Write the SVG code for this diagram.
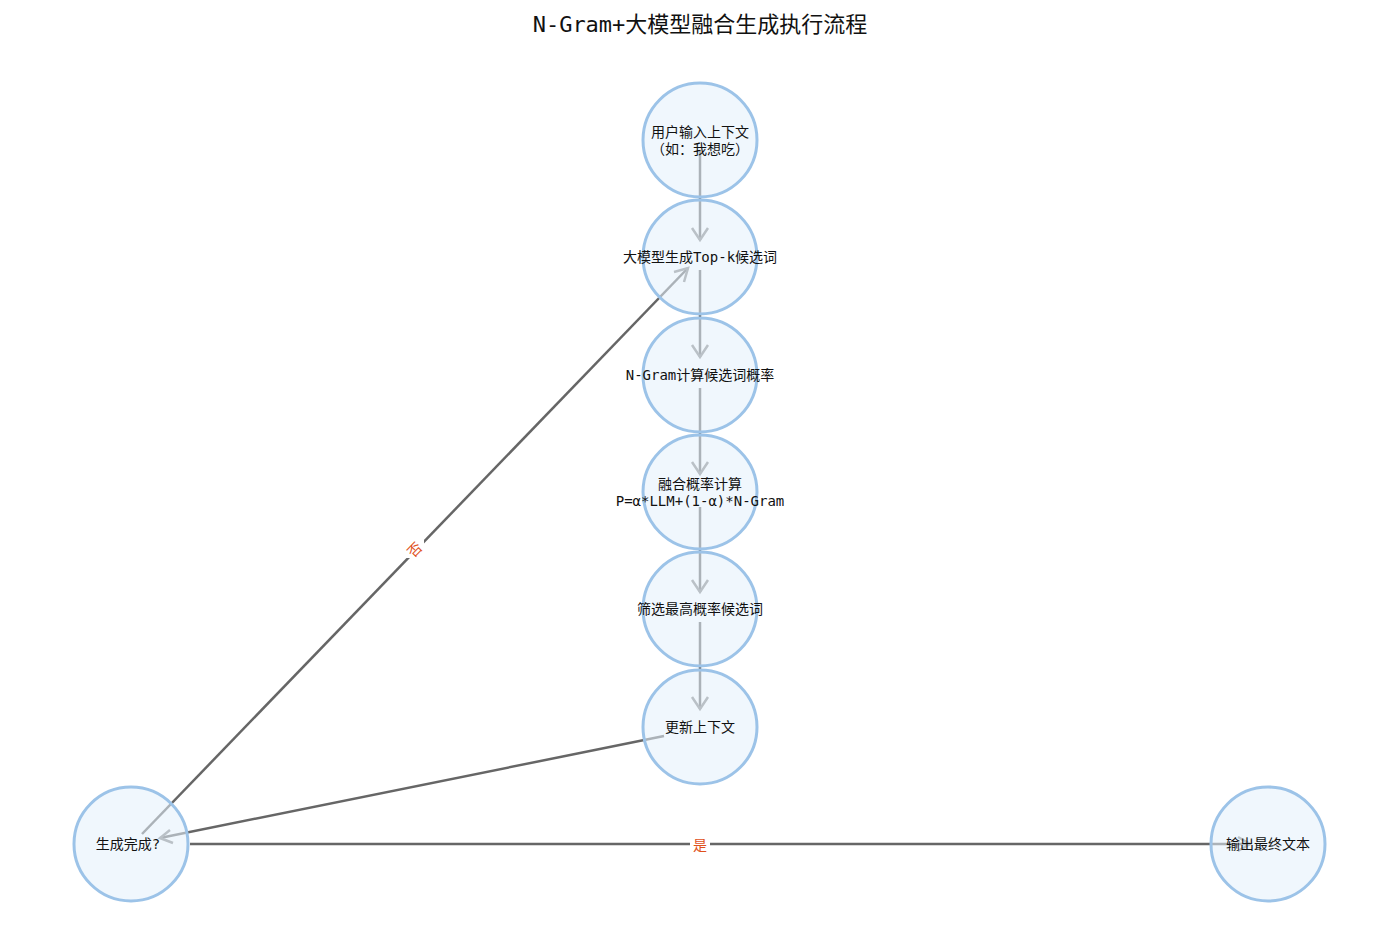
<svg xmlns="http://www.w3.org/2000/svg" width="1400" height="930" viewBox="0 0 1400 930">
<style>
.n{fill:#e3f0fc;fill-opacity:0.55;stroke:#9cc3e8;stroke-width:3}
.t{font-family:"DejaVu Sans Mono","Noto Sans CJK SC",monospace;font-size:14px;fill:#111;text-anchor:middle}
.e{stroke:#666;stroke-width:2.5;fill:none;marker-end:url(#a)}
.l{font-family:"Noto Sans CJK SC",sans-serif;font-size:14px;fill:#e0501a;text-anchor:middle;dominant-baseline:central}
</style>
<defs><marker id="a" viewBox="0 0 10 10" refX="9" refY="5" markerWidth="7" markerHeight="7" orient="auto" markerUnits="userSpaceOnUse"><path d="M1,1 L9,5 L1,9" fill="none" stroke="#666" stroke-width="1.6"/></marker></defs>
<rect width="1400" height="930" fill="#fff"/>
<text x="700" y="32" style="font-family:'DejaVu Sans Mono','Noto Sans CJK SC',monospace;font-size:22px;fill:#111;text-anchor:middle">N-Gram+大模型融合生成执行流程</text>
<g id="connectors">
<path class="e" d="M700,150 L700,240" style="marker-end:none"/><path d="M692,228 L700,240 L708,228" fill="none" stroke="#888" stroke-width="2.5"/>
<path d="M700,270 L700,357" stroke="#666" stroke-width="2.5"/><path d="M692,345 L700,357 L708,345" fill="none" stroke="#888" stroke-width="2.5"/>
<path d="M700,388 L700,474" stroke="#666" stroke-width="2.5"/><path d="M692,462 L700,474 L708,462" fill="none" stroke="#888" stroke-width="2.5"/>
<path d="M700,507 L700,592" stroke="#666" stroke-width="2.5"/><path d="M692,580 L700,592 L708,580" fill="none" stroke="#888" stroke-width="2.5"/>
<path d="M700,622 L700,709" stroke="#666" stroke-width="2.5"/><path d="M692,697 L700,709 L708,697" fill="none" stroke="#888" stroke-width="2.5"/>
<path d="M664,736 L160,838" stroke="#666" stroke-width="2.5"/><path d="M170,830 L160,838 L173,843" fill="none" stroke="#888" stroke-width="2.5"/>
<path d="M142,834 L688,268" stroke="#666" stroke-width="2.5"/><path d="M674,272 L688,268 L684,282" fill="none" stroke="#888" stroke-width="2.5"/>
<path d="M190,844 L1250,844" stroke="#666" stroke-width="2.5"/><path d="M1238,837 L1250,844 L1238,851" fill="none" stroke="#888" stroke-width="2.5"/>
<rect x="404" y="540" width="20" height="18" fill="#fff"/><text class="l" x="414" y="549" transform="rotate(-46 414 549)">否</text>
<rect x="690" y="835" width="20" height="18" fill="#fff"/><text class="l" x="700" y="844">是</text>
</g>
<g id="n1"><circle class="n" cx="700" cy="140" r="57"/><text class="t" x="700" y="137">用户输入上下文</text><text class="t" x="700" y="154">（如：我想吃）</text></g>
<g id="n2"><circle class="n" cx="700" cy="257" r="57"/><text class="t" x="700" y="262">大模型生成Top-k候选词</text></g>
<g id="n3"><circle class="n" cx="700" cy="375" r="57"/><text class="t" x="700" y="380">N-Gram计算候选词概率</text></g>
<g id="n4"><circle class="n" cx="700" cy="492" r="57"/><text class="t" x="700" y="489">融合概率计算</text><text class="t" x="700" y="506">P=α*LLM+(1-α)*N-Gram</text></g>
<g id="n5"><circle class="n" cx="700" cy="609" r="57"/><text class="t" x="700" y="614">筛选最高概率候选词</text></g>
<g id="n6"><circle class="n" cx="700" cy="727" r="57"/><text class="t" x="700" y="732">更新上下文</text></g>
<g id="n7"><circle class="n" cx="131" cy="844" r="57"/><text class="t" x="128" y="849">生成完成?</text></g>
<g id="n8"><circle class="n" cx="1268" cy="844" r="57"/><text class="t" x="1268" y="849">输出最终文本</text></g>
</svg>
